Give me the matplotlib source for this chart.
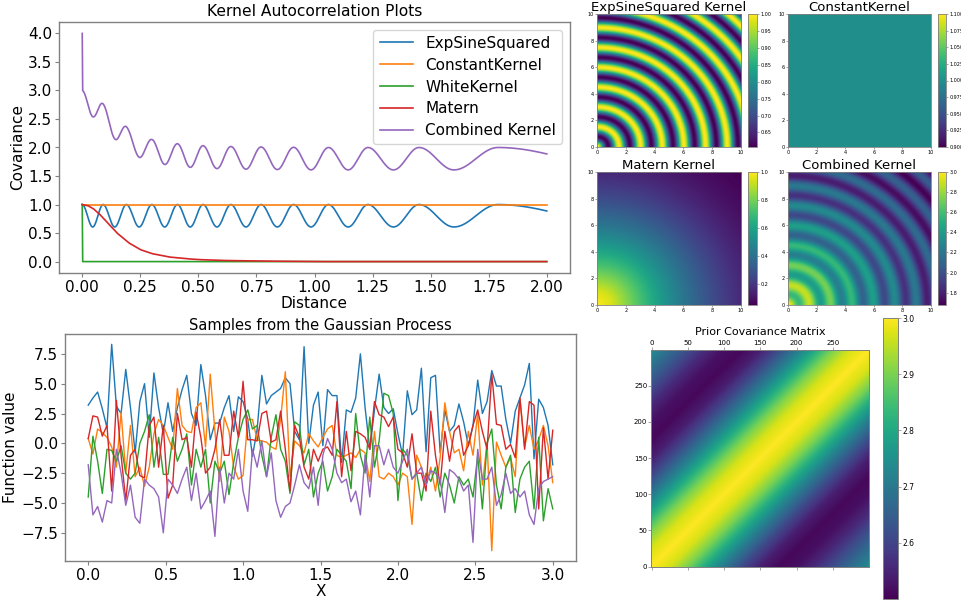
import numpy as np
import matplotlib
matplotlib.use('Agg')
import matplotlib.pyplot as plt

# ---------------- data ----------------
kernel_names = ["ExpSineSquared", "ConstantKernel", "WhiteKernel", "Matern", "Combined Kernel"]

# ExpSineSquared autocorrelation: positions of maxima / minima along distance
es_peak_d = [0.0, 0.09, 0.19, 0.30, 0.41, 0.52, 0.64, 0.77, 0.91, 1.06, 1.23, 1.45, 1.79]
es_trough_d = [0.045, 0.14, 0.245, 0.355, 0.465, 0.58, 0.705, 0.84, 0.985, 1.145, 1.34, 1.60]
es_hi, es_lo = 1.0, 0.607
es_end_d, es_end_phase = 2.0, 12.18

const_level = 1.0
white_d = [0.0, 0.003, 2.0]
white_v = [1.0, 0.0, 0.0]

matern_d = [0.0, 0.025, 0.05, 0.075, 0.1, 0.125, 0.15, 0.2, 0.25, 0.3, 0.375, 0.45, 0.5, 0.6, 0.75, 1.0, 2.0]
matern_v = [1.0, 0.98, 0.92, 0.83, 0.72, 0.61, 0.50, 0.33, 0.21, 0.14, 0.08, 0.05, 0.035, 0.02, 0.01, 0.0, 0.0]

# 2D kernel maps: radial profiles
ring_peak_r = [0.0, 1.5, 3.0, 4.5, 6.0, 7.5, 9.0, 10.5, 12.0, 13.5, 15.0]
matern_r = [0, 1, 2, 3, 4, 5, 6, 7, 8, 9, 10, 11, 12, 13, 14.2]
matern_rv = [1.0, 0.94, 0.83, 0.72, 0.61, 0.51, 0.42, 0.34, 0.27, 0.21, 0.16, 0.12, 0.09, 0.07, 0.05]

# prior covariance: value vs |i - j|
prior_lag = [0, 25, 50, 75, 100, 125, 150, 175, 200, 225, 250, 275, 299]
prior_val = [3.0, 2.97, 2.90, 2.80, 2.70, 2.61, 2.54, 2.51, 2.52, 2.56, 2.62, 2.68, 2.74]

# GP samples (100 points on [0, 3])
s_blue = [3.2, 3.8, 4.3, 2.9, 1.3, 8.3, 3.1, 2.5, 6.2, 3.0, -0.8, 3.5, 5.0, 0.5, 5.9, 3.0, 0.8, 3.4, 1.0, 3.0,
          4.5, 5.7, 2.5, 1.5, 6.6, 4.0, 0.3, 1.7, 1.7, 3.0, 4.0, 1.0, 3.9, 3.5, 2.0, -1.1, 1.2, 5.7, 3.3, 4.0,
          4.3, 4.6, 5.5, 5.0, 1.0, 0.3, 8.1, 0.0, 3.2, 4.3, -0.2, 4.5, 4.0, 4.0, -1.6, 2.8, 2.6, 3.8, 7.5, 3.0,
          -0.5, 2.8, 5.8, 3.0, 2.5, 2.9, 0.8, -1.0, 4.4, 2.4, 2.8, 6.3, -0.7, 5.5, 5.7, -0.8, 2.8, 1.0, 1.5, 3.3,
          1.8, -0.2, 1.5, 5.3, 2.5, 3.5, 6.1, 4.8, 4.8, 2.0, 0.0, 2.7, 3.8, 4.9, 6.7, -1.3, 3.7, 3.0, 1.5, -1.8]
s_orange = [0.4, -0.9, 1.2, 0.9, 0.5, -0.3, -2.0, 2.6, -2.5, 1.5, -2.8, -2.0, -3.6, -2.0, 0.8, 2.0, 1.5, 0.5, -0.5, 4.6,
            1.5, 1.0, 0.9, 3.0, 3.4, -0.3, 5.8, 1.0, -3.2, 2.2, 1.0, -2.0, -3.0, -2.7, 2.0, 2.0, 0.3, 0.2, 0.1, -0.3,
            -0.5, 2.0, 6.0, -2.8, 0.2, -0.2, -0.8, 0.8, 0.2, -0.3, 0.5, 1.2, 1.5, -1.0, -1.2, -1.0, -0.8, -1.2, -0.5, -0.8,
            -3.2, 1.0, -2.8, -3.0, -2.5, -2.8, -3.5, -2.5, -2.8, -6.8, -1.0, -2.0, -3.4, -2.0, -4.0, -1.2, 3.4, 1.0, -0.8, -0.5,
            -2.3, 1.0, -1.0, 2.5, -3.5, 0.1, -9.0, 0.1, -1.0, -2.0, -1.2, -2.8, 3.8, -0.3, 1.5, -0.5, 0.3, 1.5, -0.2, -3.3]
s_green = [-4.5, 0.6, -1.5, -4.2, -0.5, -0.6, -1.5, -0.2, -2.5, -3.0, -2.5, 0.0, 1.0, 2.4, -2.0, 0.5, -2.6, -2.6, 0.5, -1.5,
           -0.5, 0.8, -3.5, -0.5, -2.0, -0.5, -5.0, -1.5, -2.5, -1.5, -4.3, -1.6, 0.5, 2.0, 2.8, 1.2, 1.5, -1.0, -2.8, 0.5,
           2.4, -0.5, -1.5, -4.2, 1.8, 1.5, -1.8, -0.5, -4.5, -2.5, -1.5, -4.0, -2.8, -0.5, -1.0, -1.5, -3.8, 2.5, -1.0, -2.5,
           2.2, -2.0, 0.2, 4.2, 4.0, 2.5, -4.8, -0.5, -1.0, -3.0, -2.5, -4.8, -2.5, -3.2, -2.0, -4.5, -2.5, -3.5, -5.0, -2.8,
           -3.5, -3.0, -4.5, -1.0, -5.5, 0.0, 1.2, -3.5, -5.5, -2.0, -1.0, -5.8, -3.0, -2.0, -1.5, -5.5, 0.5, -6.5, -3.8, -5.5]
s_red = [0.4, 2.3, 2.2, 0.6, 1.5, -4.0, 3.6, -1.0, -4.8, -1.0, -0.5, -2.7, -2.9, 1.5, 2.2, -2.0, 1.5, -4.6, -3.5, 2.5,
         0.3, 0.5, -2.0, 2.6, 0.5, -2.5, -2.0, -0.5, 2.0, -1.0, -1.0, 2.7, 0.5, 5.2, 0.3, 0.3, 0.2, 2.5, 2.7, 0.1,
         0.3, 2.7, -0.5, -4.0, 1.5, 0.5, -2.0, -3.0, -0.5, -1.5, -0.5, -0.3, -1.0, 3.5, -2.8, 1.0, -2.3, 1.0, 0.8, 0.5,
         -0.5, 3.5, 2.4, 2.2, 1.4, 2.2, -0.5, -0.8, -2.0, 0.8, -2.5, -2.5, -4.0, 2.7, -1.0, -3.5, 1.0, -1.5, 1.0, 1.5,
         -1.0, -0.2, 1.5, 2.8, 1.0, -0.5, 5.8, 1.6, 1.5, -0.5, -0.1, -1.2, 3.8, -0.5, 3.5, 3.2, -5.5, 1.3, -3.0, 1.1]
s_purple = [-1.8, -6.0, -5.3, -6.6, -4.8, -5.0, -0.5, -2.5, -5.2, -3.5, -6.2, -6.7, -3.0, -3.5, -3.8, -4.5, -7.5, -3.0, -3.5, -4.2,
            -3.0, -2.0, -4.8, -2.5, -5.5, -4.8, -4.0, -7.8, -2.0, -5.0, -2.5, -3.0, -0.5, -4.0, -5.7, -0.5, -2.0, 0.2, -2.8, -0.8,
            -4.8, -6.2, -5.3, -5.0, -3.5, -1.8, -3.3, -3.8, -2.0, -5.2, -1.0, 0.4, -0.5, -2.5, -3.3, -3.0, -4.9, -4.0, -6.0, -1.0,
            -4.5, -0.2, -0.2, -1.8, -0.5, -2.0, -2.5, -1.5, -0.5, -3.0, -2.5, -2.0, -3.5, -2.3, -2.5, -3.0, -5.8, -2.2, -2.5, -3.0,
            -4.0, -3.5, -8.3, -0.5, -3.0, -3.0, -2.0, -5.2, -4.3, -2.5, -4.2, -3.8, -4.5, -4.0, -6.0, -6.8, -3.8, -3.2, -3.0, -2.8]
samples = [s_blue, s_orange, s_green, s_red, s_purple]

# ---------------- figure ----------------
W, H = 961, 601
fig = plt.figure(figsize=(W / 100, H / 100), dpi=100)


def ax_px(x0, y0, x1, y1):
    return fig.add_axes([x0 / W, 1 - y1 / H, (x1 - x0) / W, (y1 - y0) / H])


SP = '#808080'


def style(ax, lw=1.0):
    for s in ax.spines.values():
        s.set_color(SP)
        s.set_linewidth(lw)


# --- kernel autocorrelation ---
d = np.linspace(0, 2, 1001)
kp = np.sort(np.array(es_peak_d + es_trough_d + [es_end_d]))
ph = np.concatenate([np.arange(len(es_peak_d) + len(es_trough_d)) * 0.5, [es_end_phase]])
phase = np.interp(d, kp, ph)
es = es_lo + (es_hi - es_lo) * (np.cos(2 * np.pi * phase) + 1) / 2
const = np.full_like(d, const_level)
white = np.interp(d, white_d, white_v)
white[1:] = 0.0
mat = np.interp(d, matern_d, matern_v)
comb = es + const + mat + white

ax1 = ax_px(59, 22, 570, 273)
for y, name in zip([es, const, white, mat, comb], kernel_names):
    ax1.plot(d, y, lw=1.2, label=name)
ax1.set_title("Kernel Autocorrelation Plots", fontsize=11.2, pad=4)
ax1.set_xlabel("Distance", fontsize=11, labelpad=1)
ax1.set_ylabel("Covariance", fontsize=11, labelpad=2)
ax1.tick_params(labelsize=11, length=3, color=SP, pad=2)
ax1.set_xticks(np.arange(0, 2.01, 0.25))
ax1.set_yticks(np.arange(0, 4.01, 0.5))
ax1.yaxis.set_major_formatter(matplotlib.ticker.FormatStrFormatter('%.1f'))
ax1.legend(loc='upper right', fontsize=11, handlelength=2.2, borderpad=0.4, labelspacing=0.45)
style(ax1)

# --- GP samples ---
x = np.linspace(0, 3, len(s_blue))
ax2 = ax_px(65, 334, 576, 561)
for s in samples:
    ax2.plot(x, s, lw=1.0)
ax2.set_title("Samples from the Gaussian Process", fontsize=10.5, pad=3)
ax2.set_xlabel("X", fontsize=11, labelpad=1)
ax2.set_ylabel("Function value", fontsize=11, labelpad=2)
ax2.tick_params(labelsize=11, length=3, color=SP, pad=2)
ax2.set_yticks(np.arange(-7.5, 7.51, 2.5))
ax2.set_xticks(np.arange(0, 3.01, 0.5))
style(ax2)

# --- 2D kernel maps ---
g = np.linspace(0, 10, 200)
GX, GY = np.meshgrid(g, g)
R = np.hypot(GX, GY)
rp = np.array(ring_peak_r)
r_kp = np.sort(np.concatenate([rp, rp[:-1] + np.diff(rp) / 2]))
r_ph = np.arange(len(r_kp)) * 0.5
es2 = es_lo + (es_hi - es_lo) * (np.cos(2 * np.pi * np.interp(R, r_kp, r_ph)) + 1) / 2
const2 = np.full_like(R, const_level)
mat2 = np.interp(R, matern_r, matern_rv)
comb2 = es2 + const2 + mat2

maps = [
    ("ExpSineSquared Kernel", es2, (597, 14, 741, 147), (748, 757), None, None, "%.2f"),
    ("ConstantKernel", const2, (788, 14, 931, 147), (938, 946), 0.9, 1.1, "%.3f"),
    ("Matern Kernel", mat2, (597, 172, 741, 305), (748, 757), None, None, "%.1f"),
    ("Combined Kernel", comb2, (788, 172, 931, 305), (938, 946), None, None, "%.1f"),
]
for title, Z, (x0, y0, x1, y1), (c0, c1), vmin, vmax, fmt in maps:
    ax = ax_px(x0, y0, x1, y1)
    im = ax.imshow(Z, origin='lower', extent=[0, 10, 0, 10], cmap='viridis', aspect='auto',
                   vmin=vmin, vmax=vmax)
    ax.set_title(title, fontsize=9.5, pad=1)
    ax.set_xticks(range(0, 11, 2))
    ax.set_yticks(range(0, 11, 2))
    ax.tick_params(labelsize=3.5, length=1.5, width=0.5, pad=1, color=SP)
    style(ax, 0.6)
    cax = ax_px(c0, y0, c1, y1)
    cb = fig.colorbar(im, cax=cax, format=fmt)
    cb.ax.tick_params(labelsize=3.5, length=1.5, width=0.5, pad=1, color=SP)
    cb.outline.set_edgecolor(SP)
    cb.outline.set_linewidth(0.6)

# --- prior covariance matrix ---
n = 300
idx = np.arange(n)
L = np.abs(idx[:, None] - idx[None, :])
P = np.interp(L, prior_lag, prior_val)
ax5 = ax_px(651, 350, 869, 567)
im5 = ax5.imshow(P, origin='lower', cmap='viridis', aspect='equal', vmin=2.5, vmax=3.0,
                 extent=[-0.5, n - 0.5, -0.5, n - 0.5])
ax5.xaxis.tick_top()
ax5.xaxis.set_ticks_position('both')
ax5.set_xticks(range(0, 300, 50))
ax5.set_yticks(range(0, 300, 50))
ax5.tick_params(labelsize=5, length=2, width=0.5, pad=1, color=SP, labelbottom=False, labeltop=True)
ax5.set_title("Prior Covariance Matrix", fontsize=8, pad=11)
style(ax5, 0.7)
cax5 = ax_px(883, 318, 898, 599)
cb5 = fig.colorbar(im5, cax=cax5)
cb5.set_ticks([2.6, 2.7, 2.8, 2.9, 3.0])
cb5.ax.tick_params(labelsize=5.5, length=2, width=0.5, pad=1, color=SP)
cb5.outline.set_edgecolor(SP)
cb5.outline.set_linewidth(0.7)

fig.savefig("out.png", dpi=100)
